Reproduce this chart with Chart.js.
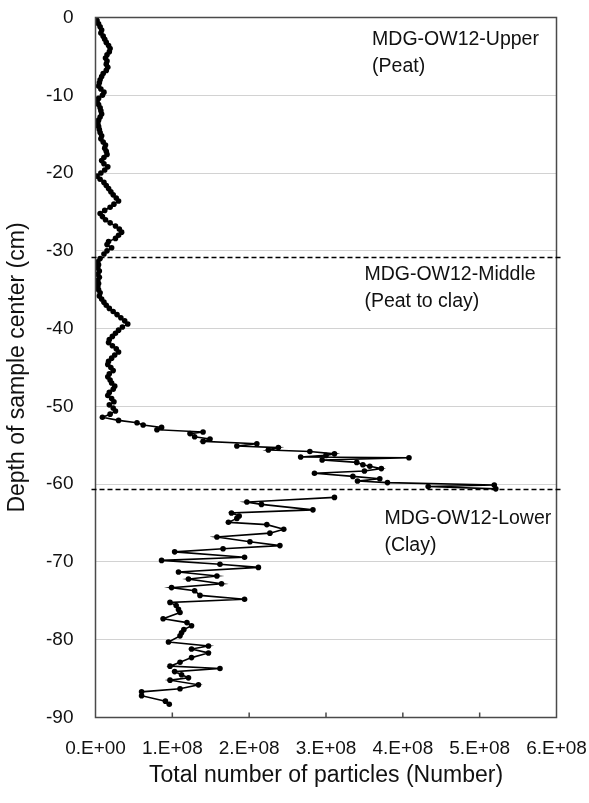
<!DOCTYPE html>
<html lang="en">
<head>
<meta charset="utf-8">
<title>Particles by depth</title>
<script src="https://cdn.jsdelivr.net/npm/chart.js@4.4.1/dist/chart.umd.min.js"></script>
<style>
    html, body { margin: 0; padding: 0; background: #fff; }
    #wrap { width: 589px; height: 803px; }
</style>
</head>
<body>
<div id="wrap"><canvas id="graph" width="589" height="803"></canvas></div>
<script>
// counts are in millions of particles, depths in cm
var UNIT = 1e6;

var upperDepth = [0, -0.4, -0.8, -1.2, -1.6, -2.0, -2.4, -2.8, -3.2, -3.6, -4.0, -4.4, -4.8, -5.2, -5.6, -6.0, -6.4, -6.8, -7.2, -7.6,
    -8.0, -8.4, -8.8, -9.2, -9.6, -10.0, -10.4, -10.8, -11.2, -11.6, -12.0, -12.4, -12.8, -13.2, -13.6, -14.0, -14.4, -14.8, -15.2, -15.6,
    -16.0, -16.4, -16.8, -17.2, -17.6, -18.0, -18.4, -18.8, -19.2, -19.6, -20.0, -20.4, -20.8, -21.2, -21.6, -22.0, -22.4, -22.8, -23.2, -23.6,
    -24.0, -24.4, -24.8, -25.2, -25.6, -26.0, -26.4, -26.8, -27.2, -27.6, -28.0, -28.4, -28.8, -29.2, -29.6, -30.0, -30.4];
var upperCount = [1, 2, 4, 6, 8, 7, 10, 12, 14, 17, 19, 18, 15, 13, 15, 14, 16, 14, 10, 8,
    6, 5, 4, 7, 11, 9, 4, 2, 4, 6, 7, 8, 6, 4, 3, 4, 5, 6, 8, 7,
    10, 13, 12, 14, 15, 11, 8, 11, 16, 12, 7, 2, 6, 11, 14, 17, 20, 23, 27, 30,
    24, 19, 12, 6, 9, 13, 19, 26, 31, 34, 30, 26, 17, 15, 21, 15, 11];

var middleDepth = [-31.0, -31.4, -31.8, -32.2, -32.6, -33.0, -33.4, -33.8, -34.2, -34.6, -35.0, -35.4, -35.8, -36.2, -36.6, -37.0, -37.4,
    -37.8, -38.2, -38.6, -39.0, -39.4, -39.8, -40.2, -40.6, -41.0, -41.4, -41.8, -42.2, -42.6, -43.0, -43.4, -43.8, -44.2, -44.6,
    -45.0, -45.4, -45.8, -46.2, -46.6, -47.0, -47.4, -47.8, -48.2, -48.6, -49.0, -49.4, -49.8, -50.2, -50.6, -51.0,
    -51.4, -51.8, -52.1, -52.4, -52.7, -53.0, -53.3, -53.5, -53.9, -54.2, -54.5, -54.8, -55.1, -55.3, -55.6, -55.8,
    -56.1, -56.3, -56.5, -56.6, -56.9, -57.2, -57.5, -57.7, -58.0, -58.3, -58.6, -59.0, -59.3, -59.6, -59.8, -60.1, -60.3, -60.6];
var middleCount = [6, 3, 4, 3, 5, 3, 5, 3, 4, 3, 4, 6, 5, 8, 11, 14, 18,
    23, 28, 33, 38, 42, 35, 30, 26, 22, 18, 17, 22, 27, 30, 25, 21, 17, 16,
    20, 23, 18, 16, 19, 21, 25, 23, 18, 16, 21, 24, 18, 23, 26, 19,
    9, 30, 54, 62, 86, 80, 140, 123, 129, 149, 140, 210, 184, 238, 225, 279,
    311, 300, 267, 408, 295, 340, 348, 357, 372, 350, 285, 335, 370, 341, 380, 519, 433, 521];

var lowerDepth = [-61.7, -62.3, -62.6, -63.3, -63.7, -64.1, -64.4, -64.9, -65.2, -65.8, -66.3, -66.8, -67.4, -67.9, -68.3, -68.7,
    -69.4, -69.8, -70.3, -70.7, -71.3, -71.8, -72.2, -72.8, -73.3, -73.7, -74.3, -74.8, -75.2, -75.6, -76.1, -76.5,
    -77.3, -77.8, -78.2, -78.7, -79.1, -79.5, -80.3, -80.8, -81.2, -81.7, -82.3, -82.9, -83.4, -83.7, -84.1, -84.5,
    -84.9, -85.2, -85.8, -86.3, -86.7, -87.2, -87.9, -88.3];
var lowerCount = [311, 197, 216, 283, 177, 187, 184, 173, 223, 245, 227, 158, 201, 240, 166, 103,
    194, 86, 162, 212, 108, 158, 121, 164, 99, 129, 136, 194, 97, 105, 108, 110,
    88, 119, 125, 115, 112, 110, 95, 147, 125, 147, 125, 110, 97, 162, 103, 112,
    121, 97, 134, 110, 60, 60, 91, 96];

var xTickLabels = ["0.E+00", "1.E+08", "2.E+08", "3.E+08", "4.E+08", "5.E+08", "6.E+08"];
var boundaryDepths = [-30.8, -60.6];
var upperNote = ["MDG-OW12-Upper", "(Peat)"];
var middleNote = ["MDG-OW12-Middle", "(Peat to clay)"];
var lowerNote = ["MDG-OW12-Lower", "(Clay)"];

var FONT = '"Liberation Sans", Arial, sans-serif';
var INK = "#111";

function toPoints(depths, counts) {
    var pts = [];
    for (var i = 0; i < depths.length; i++) {
        pts.push({ x: counts[i] * UNIT, y: depths[i] });
    }
    return pts;
}

function series(depths, counts) {
    return {
        data: toPoints(depths, counts),
        showLine: true,
        borderColor: "#000",
        borderWidth: 1.6,
        pointRadius: 2.8,
        pointBackgroundColor: "#000",
        pointBorderWidth: 0,
        tension: 0
    };
}

// frame, inner tick marks, core boundaries and labels
var decorations = {
    id: "decorations",
    afterDatasetsDraw: function(chart) {
        var ctx = chart.ctx, a = chart.chartArea;
        var xs = chart.scales.x, ys = chart.scales.y;
        ctx.save();
        ctx.strokeStyle = "#4a4a4a";
        ctx.lineWidth = 1.5;
        ctx.strokeRect(a.left, a.top, a.right - a.left, a.bottom - a.top);
        ctx.beginPath();
        for (var i = 1; i < xTickLabels.length - 1; i++) {
            var px = xs.getPixelForValue(i * 1e8);
            ctx.moveTo(px, a.bottom);
            ctx.lineTo(px, a.bottom - 5);
        }
        ctx.stroke();

        ctx.strokeStyle = "#000";
        ctx.lineWidth = 1.3;
        ctx.setLineDash([5, 3]);
        boundaryDepths.forEach(function(d) {
            var py = Math.round(ys.getPixelForValue(d)) + 0.5;
            ctx.beginPath();
            ctx.moveTo(a.left - 4, py);
            ctx.lineTo(a.right + 7, py);
            ctx.stroke();
        });
        ctx.restore();
    },
    afterDraw: function(chart) {
        var ctx = chart.ctx;
        var xs = chart.scales.x, ys = chart.scales.y;
        ctx.save();
        ctx.font = "19.5px " + FONT;
        ctx.fillStyle = INK;
        ctx.textBaseline = "middle";
        ctx.textAlign = "left";
        function note(lines, xv, yv) {
            var px = xs.getPixelForValue(xv), py = ys.getPixelForValue(yv);
            lines.forEach(function(t, k) { ctx.fillText(t, px, py + k * 27); });
        }
        note(upperNote, 3.6e8, -2.9);
        note(middleNote, 3.5e8, -33.0);
        note(lowerNote, 3.76e8, -64.4);
        ctx.restore();
    }
};

var chart = new Chart(document.getElementById("graph").getContext("2d"), {
    type: "scatter",
    data: {
        datasets: [
            series(upperDepth, upperCount),
            series(middleDepth, middleCount),
            series(lowerDepth, lowerCount)
        ]
    },
    options: {
        responsive: false,
        animation: false,
        layout: { padding: { top: 17.5, right: 32.5, left: 0, bottom: 0 } },
        plugins: { legend: { display: false }, tooltip: { enabled: false } },
        scales: {
            x: {
                type: "linear",
                min: 0,
                max: 6e8,
                afterFit: function(s) {
                    s.height = 85.5;
                    s.paddingLeft = 0;
                    s.paddingRight = 0;
                },
                ticks: {
                    stepSize: 1e8,
                    padding: 20,
                    color: INK,
                    font: { family: FONT, size: 19 },
                    maxRotation: 0,
                    callback: function(v) { return xTickLabels[Math.round(v / 1e8)]; }
                },
                grid: { drawOnChartArea: false, drawTicks: false },
                border: { display: false },
                title: {
                    display: true,
                    text: "Total number of particles (Number)",
                    color: INK,
                    font: { family: FONT, size: 23 },
                    padding: { top: 0, bottom: 14 }
                }
            },
            y: {
                min: -90,
                max: 0,
                afterFit: function(s) {
                    s.width = 95.5;
                    s.paddingTop = 0;
                    s.paddingBottom = 0;
                },
                ticks: {
                    stepSize: 10,
                    padding: 22,
                    color: INK,
                    font: { family: FONT, size: 19 }
                },
                grid: { color: "#d2d2d2", lineWidth: 1, drawTicks: false },
                border: { display: false },
                title: {
                    display: true,
                    text: "Depth of sample center (cm)",
                    color: INK,
                    font: { family: FONT, size: 23 },
                    padding: { top: 4, bottom: 0 }
                }
            }
        }
    },
    plugins: [decorations]
});
</script>
</body>
</html>
